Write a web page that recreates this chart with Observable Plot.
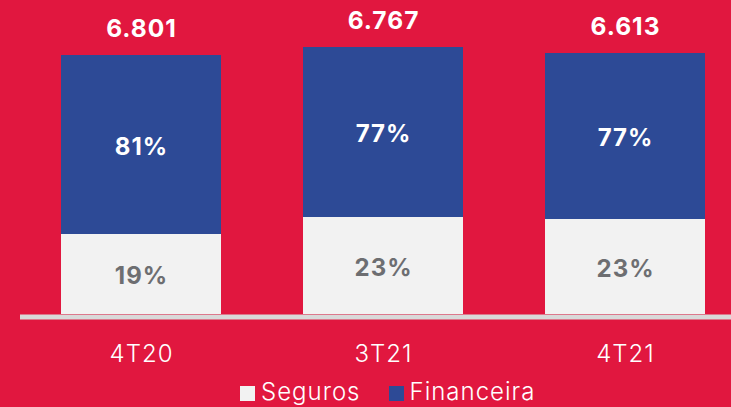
<!DOCTYPE html>
<html><head><meta charset="utf-8">
<script src="https://cdn.jsdelivr.net/npm/d3@7"></script>
<script src="https://cdn.jsdelivr.net/npm/@observablehq/plot@0.6"></script>
<style>
html,body{margin:0;padding:0;background:#E1173F;width:731px;height:407px;overflow:hidden;font-family:Inter, sans-serif}
#chart{position:absolute;left:0;top:0}
#chart svg text{letter-spacing:1px}
#legend{position:absolute;left:240px;top:378px;height:28px;display:flex;align-items:center;color:#fff;font-size:24px;font-weight:300;letter-spacing:1px;white-space:nowrap;line-height:28px}
.item{display:flex;align-items:center;margin-right:28px}
.sw{width:15px;height:15px;display:inline-block;margin-right:6px;margin-top:2px}
</style></head><body>
<div id="chart"></div>
<div id="legend"></div>
<script>
const periods = ["4T20", "3T21", "4T21"];
const totals = ["6.801", "6.767", "6.613"];
const series = ["Seguros", "Financeira"];
const seriesColors = ["#F2F2F2", "#2D4A96"];
const segurosPct = ["19%", "23%", "23%"];
const financeiraPct = ["81%", "77%", "77%"];
// segment heights as drawn in the picture (relative units)
const segurosBar = [80, 97, 95];
const financeiraBar = [179, 170, 166];

const rows = [];
const tops = [];
periods.forEach((p, i) => {
  const s = segurosBar[i], f = financeiraBar[i];
  rows.push({period: p, series: "Seguros", y1: 0, y2: s, label: segurosPct[i]});
  rows.push({period: p, series: "Financeira", y1: s, y2: s + f, label: financeiraPct[i]});
  tops.push({period: p, top: s + f, label: totals[i]});
});

const chart = Plot.plot({
  width: 731,
  height: 372,
  marginLeft: 20,
  marginRight: 0,
  marginTop: 0,
  marginBottom: 58,
  style: {background: "transparent", fontFamily: "Inter, sans-serif", color: "#fff", overflow: "visible"},
  x: {domain: periods, range: [20, 746], paddingInner: 0.339, paddingOuter: 0.169, label: null},
  y: {domain: [0, 300], range: [314, 14], axis: null},
  color: {domain: series, range: seriesColors},
  marks: [
    Plot.barY(rows, {x: "period", y1: "y1", y2: "y2", fill: "series"}),
    Plot.ruleY([0], {stroke: "#D9D9D9", strokeWidth: 5, dy: 2.5}),
    Plot.text(rows, {
      x: "period", y: d => (d.y1 + d.y2) / 2, text: "label", dy: 2,
      fill: d => d.series === "Seguros" ? "#6D6E71" : "#FFFFFF",
      fontSize: 24, fontWeight: 700
    }),
    Plot.text(tops, {x: "period", y: "top", text: "label", dy: -26, fill: "#FFFFFF", fontSize: 24.5, fontWeight: 700}),
    Plot.axisX({tickSize: 0, tickPadding: 30, fontSize: 24, fontWeight: 300, fill: "#FFFFFF", label: null})
  ]
});
document.getElementById("chart").appendChild(chart);

const legend = document.getElementById("legend");
series.forEach((s, i) => {
  const item = document.createElement("div");
  item.className = "item";
  const sw = document.createElement("span");
  sw.className = "sw";
  sw.style.background = seriesColors[i];
  const t = document.createElement("span");
  t.textContent = s;
  item.appendChild(sw);
  item.appendChild(t);
  legend.appendChild(item);
});
</script>
</body></html>
